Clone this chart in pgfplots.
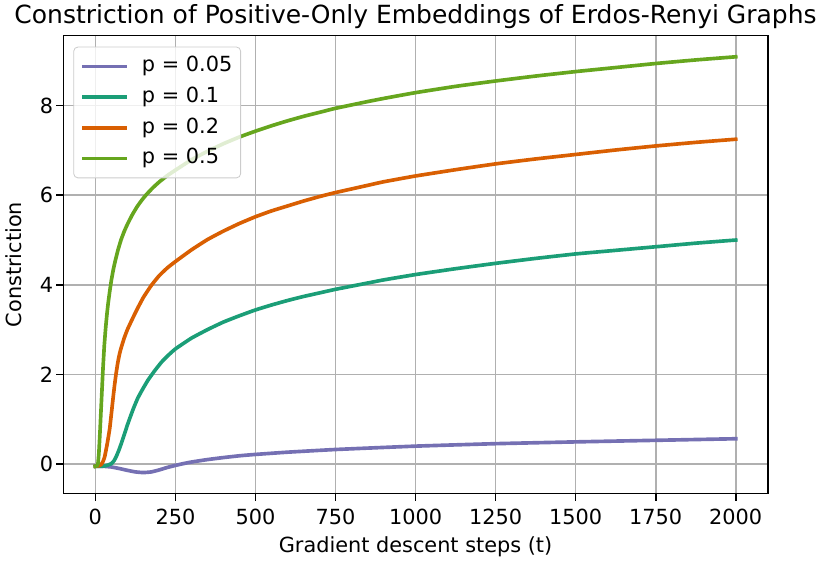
\documentclass[border=0pt]{standalone}
\usepackage{fontspec}
\setmainfont{DejaVu Sans}
\usepackage{pgfplots}
\usepackage{pgfplotstable}
\pgfplotsset{compat=1.18}
\definecolor{cA}{HTML}{7570B3}
\definecolor{cB}{HTML}{1B9E77}
\definecolor{cC}{HTML}{D95F02}
\definecolor{cD}{HTML}{66A61E}
\definecolor{gridc}{HTML}{B0B0B0}
\definecolor{legc}{HTML}{CCCCCC}

\pgfplotstableread{
t y
0 -0.05
25 -0.05
50 -0.065
75 -0.10
100 -0.14
125 -0.175
150 -0.19
175 -0.175
200 -0.13
225 -0.075
250 -0.03
275 0.01
300 0.045
350 0.10
400 0.145
450 0.185
500 0.215
600 0.265
750 0.325
1000 0.40
1250 0.455
1500 0.495
1750 0.53
2000 0.565
}\tabA

\pgfplotstableread{
t y
0 -0.05
20 -0.05
30 -0.04
40 -0.02
50 0.01
58 0.07
66 0.18
74 0.32
82 0.48
90 0.65
100 0.87
110 1.07
120 1.26
133 1.48
150 1.70
165 1.88
185 2.08
206 2.27
225 2.41
250 2.57
300 2.81
350 3.00
400 3.17
450 3.31
500 3.44
550 3.55
600 3.65
650 3.74
700 3.82
750 3.90
850 4.04
900 4.11
1000 4.23
1125 4.36
1250 4.48
1375 4.59
1500 4.69
1625 4.77
1750 4.85
1875 4.93
2000 5.00
}\tabB

\pgfplotstableread{
t y
0 -0.05
10 -0.04
18 -0.01
24 0.06
29 0.16
33 0.30
37 0.45
41 0.62
45 0.80
50 1.12
55 1.45
60 1.76
65 2.03
70 2.26
75 2.44
80 2.58
90 2.81
100 3.00
115 3.23
130 3.45
150 3.72
175 3.99
200 4.21
225 4.38
250 4.52
300 4.78
350 5.01
400 5.20
450 5.37
500 5.52
550 5.65
600 5.76
650 5.87
700 5.97
750 6.06
850 6.22
900 6.30
1000 6.43
1125 6.57
1250 6.70
1375 6.81
1500 6.91
1625 7.01
1750 7.10
1875 7.18
2000 7.25
}\tabC

\pgfplotstableread{
t y
0 -0.05
5 -0.04
8 0.00
11 0.25
14 0.65
17 1.10
20 1.55
24 2.15
28 2.65
32 3.02
36 3.33
40 3.59
45 3.86
50 4.10
55 4.30
60 4.47
70 4.76
80 5.00
90 5.19
100 5.35
115 5.56
130 5.74
145 5.89
160 6.02
180 6.17
200 6.30
225 6.44
250 6.56
300 6.79
350 6.98
400 7.15
450 7.30
500 7.43
550 7.55
600 7.66
650 7.76
700 7.85
750 7.94
850 8.09
900 8.16
1000 8.29
1125 8.43
1250 8.55
1375 8.66
1500 8.76
1625 8.85
1750 8.94
1875 9.02
2000 9.09
}\tabD

\begin{document}
\begin{tikzpicture}
\begin{axis}[
  scale only axis,
  width=338.1pt, height=219.7pt,
  xmin=-100, xmax=2100, ymin=-0.654, ymax=9.5625,
  xtick={0,250,...,2000}, ytick={0,2,4,6,8},
  scaled ticks=false,
  grid=major,
  grid style={color=gridc, line width=0.8pt},
  axis line style={line width=0.8pt},
  tick align=outside,
  major tick length=3.5pt,
  tick style={line width=0.8pt, black},
  xtick pos=left, ytick pos=left,
  /pgf/number format/assume math mode=true,
  /pgf/number format/set thousands separator={},
  every tick label/.append style={font=\fontsize{10}{12}\selectfont},
  xticklabel style={anchor=base, inner sep=0pt, yshift=-11.6pt},
  yticklabel style={anchor=east, inner sep=0pt, xshift=-1.2pt},
  title={Constriction of Positive-Only Embeddings of Erdos-Renyi Graphs},
  every axis title/.style={at={(axis description cs:0.5,1)}, anchor=base, yshift=5.8pt, font=\fontsize{12}{14}\selectfont},
  xlabel={Gradient descent steps (t)},
  ylabel={Constriction},
  every axis x label/.style={at={(axis description cs:0.5,0)}, anchor=base, yshift=-28.5pt, font=\fontsize{10}{12}\selectfont},
  every axis y label/.style={at={(axis description cs:-0.060,0.5)}, rotate=90, anchor=base, font=\fontsize{10}{12}\selectfont},
  legend style={
    at={(0.0142,0.976)}, anchor=north west,
    draw=legc, rounded corners=2pt, fill=white, fill opacity=0.8, text opacity=1,
    inner xsep=4pt, inner ysep=4.5pt,
    font=\fontsize{10}{12}\selectfont,
    row sep=5pt,
    nodes={inner sep=0pt, text height=7.4pt, text depth=2.3pt},
    /tikz/every odd column/.append style={column sep=7pt},
  },
  legend cell align=left,
  legend image code/.code={\draw[#1, line cap=rect] (0pt,0pt) -- (20pt,0pt);},
  every axis plot/.append style={line width=1.75pt, line join=round, line cap=rect},
]
\addplot[cA, smooth, tension=0.25] table[x=t,y=y] {\tabA};
\addlegendentry{p = 0.05}
\addplot[cB, smooth, tension=0.25] table[x=t,y=y] {\tabB};
\addlegendentry{p = 0.1}
\addplot[cC, smooth, tension=0.25] table[x=t,y=y] {\tabC};
\addlegendentry{p = 0.2}
\addplot[cD, smooth, tension=0.25] table[x=t,y=y] {\tabD};
\addlegendentry{p = 0.5}
\end{axis}
\pgfresetboundingbox
\path[use as bounding box] (-30.4pt,-33.5pt) rectangle (365.1pt,236.8pt);
\end{tikzpicture}
\end{document}
